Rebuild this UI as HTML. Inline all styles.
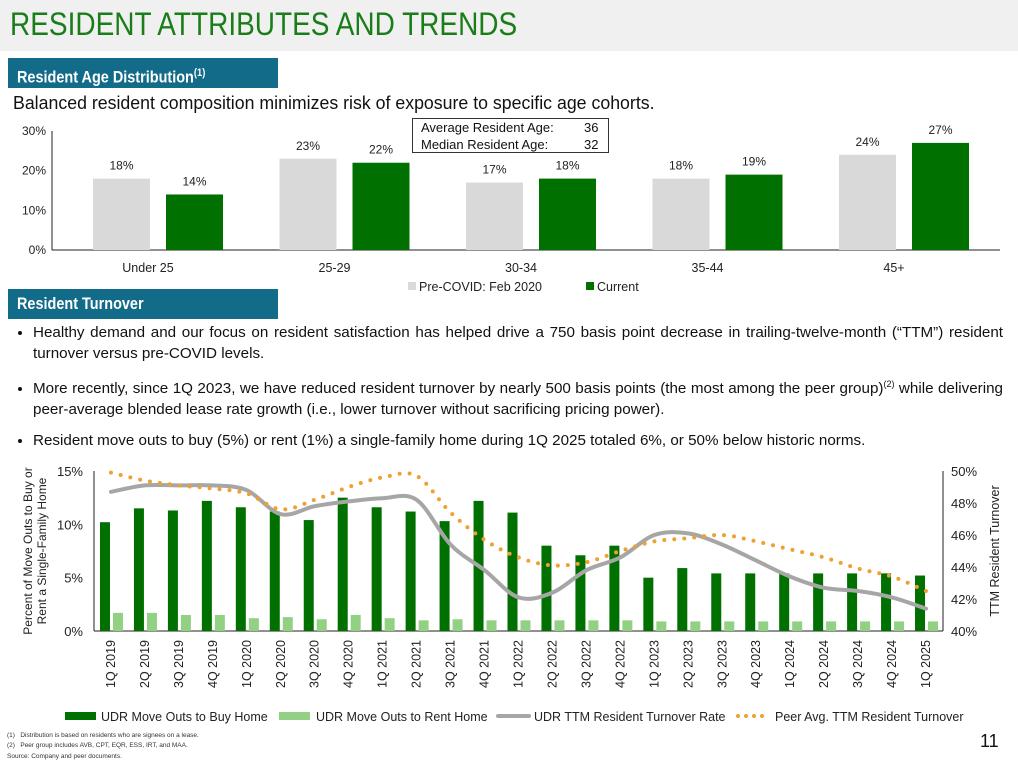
<!DOCTYPE html>
<html><head><meta charset="utf-8">
<style>
body{margin:0;width:1018px;height:768px;background:#fff;position:relative;overflow:hidden;font-family:"Liberation Sans",sans-serif;color:#111}
.abs{position:absolute}
#hdr{left:0;top:0;width:1018px;height:51px;background:#f0f0f0}
#title{left:10px;top:6px;font-size:32px;color:#1a7d1a;transform:scaleX(0.875);transform-origin:0 0;white-space:nowrap}
.tab{background:#136b8a;color:#fff;font-weight:bold;box-sizing:border-box}
.tab span{position:absolute;left:9px;top:0;line-height:30px;font-size:17px;transform:scaleX(0.85);transform-origin:0 0;white-space:nowrap}
.tab sup{font-size:11px}
.bul{font-family:"Liberation Sans",sans-serif;font-size:15.2px;line-height:21px;text-align:justify;box-sizing:border-box}
.bul li{margin-bottom:10px}
svg text{font-family:"Liberation Sans",sans-serif}
.fn{font-family:"Liberation Sans",sans-serif;font-size:6.5px;color:#333;left:7px}
</style></head><body>
<div id="hdr" class="abs"></div>
<div id="title" class="abs">RESIDENT ATTRIBUTES AND TRENDS</div>
<div class="abs tab" style="left:8px;top:58px;width:270px;height:30px"><span>Resident Age Distribution<sup>(1)</sup></span></div>
<div class="abs" style="left:13px;top:93px;font-size:18px;transform:scaleX(0.985);transform-origin:0 0;white-space:nowrap">Balanced resident composition minimizes risk of exposure to specific age cohorts.</div>
<div class="abs tab" style="left:8px;top:289px;width:270px;height:30px"><span>Resident Turnover</span></div>
<ul class="abs bul" style="left:13px;top:322px;width:990px;margin:0;padding-left:20px">
<li>Healthy demand and our focus on resident satisfaction has helped drive a 750 basis point decrease in trailing-twelve-month (“TTM”) resident turnover versus pre-COVID levels.</li>
<li>More recently, since 1Q 2023, we have reduced resident turnover by nearly 500 basis points (the most among the peer group)<sup style="font-size:9px">(2)</sup> while delivering peer-average blended lease rate growth (i.e., lower turnover without sacrificing pricing power).</li>
<li>Resident move outs to buy (5%) or rent (1%) a single-family home during 1Q 2025 totaled 6%, or 50% below historic norms.</li>
</ul>
<svg id="top" class="abs" style="left:0;top:0" width="1018" height="300"></svg>
<svg id="bot" class="abs" style="left:0;top:0" width="1018" height="768"></svg>
<div class="abs" style="left:412px;top:118px;width:197px;height:35px;border:1px solid #333;font-size:13px;line-height:17px;box-sizing:border-box;padding-left:8px;background:#fff">
<div>Average Resident Age:<span style="position:absolute;left:171px">36</span></div>
<div>Median Resident Age:<span style="position:absolute;left:171px">32</span></div></div>
<div class="abs fn" style="top:732px">(1)&nbsp;&nbsp;&nbsp;Distribution is based on residents who are signees on a lease.</div>
<div class="abs fn" style="top:742px">(2)&nbsp;&nbsp;&nbsp;Peer group includes AVB, CPT, EQR, ESS, IRT, and MAA.</div>
<div class="abs fn" style="top:753px">Source: Company and peer documents.</div>
<div class="abs" style="left:980px;top:731px;font-size:18px;font-family:'Liberation Sans',sans-serif">11</div>
<script>
const ageCats=["Under 25","25-29","30-34","35-44","45+"];
const agePre=[18,23,17,18,24];
const ageCur=[14,22,18,19,27];
const ageTicks=[0,10,20,30];

const qCats=["1Q 2019","2Q 2019","3Q 2019","4Q 2019","1Q 2020","2Q 2020","3Q 2020","4Q 2020","1Q 2021","2Q 2021","3Q 2021","4Q 2021","1Q 2022","2Q 2022","3Q 2022","4Q 2022","1Q 2023","2Q 2023","3Q 2023","4Q 2023","1Q 2024","2Q 2024","3Q 2024","4Q 2024","1Q 2025"];
const buyHome=[10.2,11.5,11.3,12.2,11.6,11.2,10.4,12.5,11.6,11.2,10.3,12.2,11.1,8.0,7.1,8.0,5.0,5.9,5.4,5.4,5.4,5.4,5.4,5.4,5.2];
const rentHome=[1.7,1.7,1.5,1.5,1.2,1.3,1.1,1.5,1.2,1.0,1.1,1.0,1.0,1.0,1.0,1.0,0.9,0.9,0.9,0.9,0.9,0.9,0.9,0.9,0.9];
const udrTTM=[48.7,49.1,49.1,49.1,48.8,47.3,47.8,48.1,48.3,48.2,45.4,43.8,42.1,42.4,43.8,44.6,46.0,46.1,45.4,44.4,43.4,42.7,42.5,42.1,41.4];
const peerTTM=[49.9,49.4,49.1,48.9,48.6,47.6,48.2,49.0,49.6,49.7,47.4,45.7,44.6,44.1,44.3,45.0,45.6,45.8,46.0,45.6,45.1,44.6,43.9,43.4,42.5];
const leftTicks=[0,5,10,15];
const rightTicks=[40,42,44,46,48,50];

const NS="http://www.w3.org/2000/svg";
function mk(svg,tag,attrs,txt){const e=document.createElementNS(NS,tag);for(const k in attrs)e.setAttribute(k,attrs[k]);if(txt!==undefined)e.textContent=txt;svg.appendChild(e);return e;}

// top chart
const T=document.getElementById('top');
const tx0=52,tx1=1000,ty0=250,ty1=131;
const tY=v=>ty0-(v/30)*(ty0-ty1);
const tGW=186.5;
const tX=i=>158+tGW*i;
ageTicks.forEach(t=>{const e=mk(T,'text',{x:46,y:tY(t)+4,'text-anchor':'end','font-size':12,fill:'#222'},t+'%');

});
let ax=mk(T,'line',{x1:tx0,y1:ty1,x2:tx0,y2:ty0,stroke:'#222','stroke-width':1});

ax=mk(T,'line',{x1:tx0,y1:ty0,x2:tx1,y2:ty0,stroke:'#222','stroke-width':1});

const bw=57;
ageCats.forEach((c,i)=>{
 const cx=tX(i);
 let b=mk(T,'rect',{x:cx-65,y:tY(agePre[i]),width:bw,height:ty0-tY(agePre[i]),fill:'#d9d9d9'});
 
 let l=mk(T,'text',{x:cx-65+bw/2,y:tY(agePre[i])-9,'text-anchor':'middle','font-size':12,fill:'#222'},agePre[i]+'%');
 
 b=mk(T,'rect',{x:cx+8,y:tY(ageCur[i]),width:bw,height:ty0-tY(ageCur[i]),fill:'#007000'});
 
 l=mk(T,'text',{x:cx+8+bw/2,y:tY(ageCur[i])-9,'text-anchor':'middle','font-size':12,fill:'#222'},ageCur[i]+'%');
 
 l=mk(T,'text',{x:cx-10,y:272,'text-anchor':'middle','font-size':12.5,fill:'#222'},c);
 
});
let lg=mk(T,'rect',{x:408,y:282,width:8,height:8,fill:'#d9d9d9'});
lg=mk(T,'text',{x:419,y:291,'font-size':12.5,fill:'#222'},'Pre-COVID: Feb 2020');
lg=mk(T,'rect',{x:586,y:282,width:8,height:8,fill:'#007000'});
lg=mk(T,'text',{x:597,y:291,'font-size':12.5,fill:'#222'},'Current');

// bottom chart
const B=document.getElementById('bot');
const bx0=94,bx1=943,by0=631,by1=471;
const bY=v=>by0-(v/15)*(by0-by1);
const rY=v=>by0-((v-40)/10)*(by0-by1);
const gw=(bx1-bx0)/qCats.length;
const bX=i=>bx0+gw*(i+0.5);
leftTicks.forEach(t=>{const e=mk(B,'text',{x:83,y:bY(t)+5,'text-anchor':'end','font-size':13,fill:'#222'},t+'%');
});
rightTicks.forEach(t=>{const e=mk(B,'text',{x:951,y:rY(t)+5,'font-size':13,fill:'#222'},t+'%');
});
ax=mk(B,'line',{x1:bx0,y1:by1,x2:bx0,y2:by0,stroke:'#222'});
ax=mk(B,'line',{x1:bx1,y1:by1,x2:bx1,y2:by0,stroke:'#222'});
ax=mk(B,'line',{x1:bx0,y1:by0,x2:bx1,y2:by0,stroke:'#222'});
let yt=mk(B,'text',{transform:'translate(32,551) rotate(-90)','text-anchor':'middle','font-size':12,fill:'#222'},'Percent of Move Outs to Buy or');

yt=mk(B,'text',{transform:'translate(46,551) rotate(-90)','text-anchor':'middle','font-size':12,fill:'#222'},'Rent a Single-Family Home');

yt=mk(B,'text',{transform:'translate(999,551) rotate(-90)','text-anchor':'middle','font-size':12.5,fill:'#222'},'TTM Resident Turnover');

qCats.forEach((c,i)=>{
 const cx=bX(i);
 let b=mk(B,'rect',{x:cx-11,y:bY(buyHome[i]),width:10,height:by0-bY(buyHome[i]),fill:'#007000'});
 
 b=mk(B,'rect',{x:cx+2,y:bY(rentHome[i]),width:10,height:by0-bY(rentHome[i]),fill:'#92d083'});
 
 const l=mk(B,'text',{transform:`translate(${cx+4},${640}) rotate(-90)`,'text-anchor':'end','font-size':12.5,fill:'#222'},c);
 
});
function smooth(vals,yf){
 const p=vals.map((v,i)=>[bX(i),yf(v)]);
 let d=`M${p[0][0]},${p[0][1]}`;
 for(let i=0;i<p.length-1;i++){
  const p0=p[i-1]||p[i],p1=p[i],p2=p[i+1],p3=p[i+2]||p2;
  const c1=[p1[0]+(p2[0]-p0[0])/6,p1[1]+(p2[1]-p0[1])/6];
  const c2=[p2[0]-(p3[0]-p1[0])/6,p2[1]-(p3[1]-p1[1])/6];
  d+=` C${c1[0]},${c1[1]} ${c2[0]},${c2[1]} ${p2[0]},${p2[1]}`;
 }
 return d;
}
let ln=mk(B,'path',{d:smooth(udrTTM,rY),fill:'none',stroke:'#a6a6a6','stroke-width':4,'stroke-linecap':'round'});

ln=mk(B,'path',{d:smooth(peerTTM,rY),fill:'none',stroke:'#f0a030','stroke-width':4,'stroke-linecap':'round','stroke-dasharray':'0 10'});

// legend
const ly=716;
lg=mk(B,'rect',{x:65,y:712,width:31,height:8,fill:'#007000'});
lg=mk(B,'text',{x:101,y:ly+5,'font-size':12.5,fill:'#222'},'UDR Move Outs to Buy Home');
lg=mk(B,'rect',{x:279,y:712,width:31,height:8,fill:'#92d083'});
lg=mk(B,'text',{x:316,y:ly+5,'font-size':12.5,fill:'#222'},'UDR Move Outs to Rent Home');
lg=mk(B,'line',{x1:498,y1:ly,x2:529,y2:ly,stroke:'#a6a6a6','stroke-width':4,'stroke-linecap':'round'});
lg=mk(B,'text',{x:534,y:ly+5,'font-size':12.5,fill:'#222'},'UDR TTM Resident Turnover Rate');
lg=mk(B,'line',{x1:738,y1:ly,x2:770,y2:ly,stroke:'#f0a030','stroke-width':4,'stroke-linecap':'round','stroke-dasharray':'0 8'});
lg=mk(B,'text',{x:775,y:ly+5,'font-size':12.5,fill:'#222'},'Peer Avg. TTM Resident Turnover');
</script>
</body></html>
